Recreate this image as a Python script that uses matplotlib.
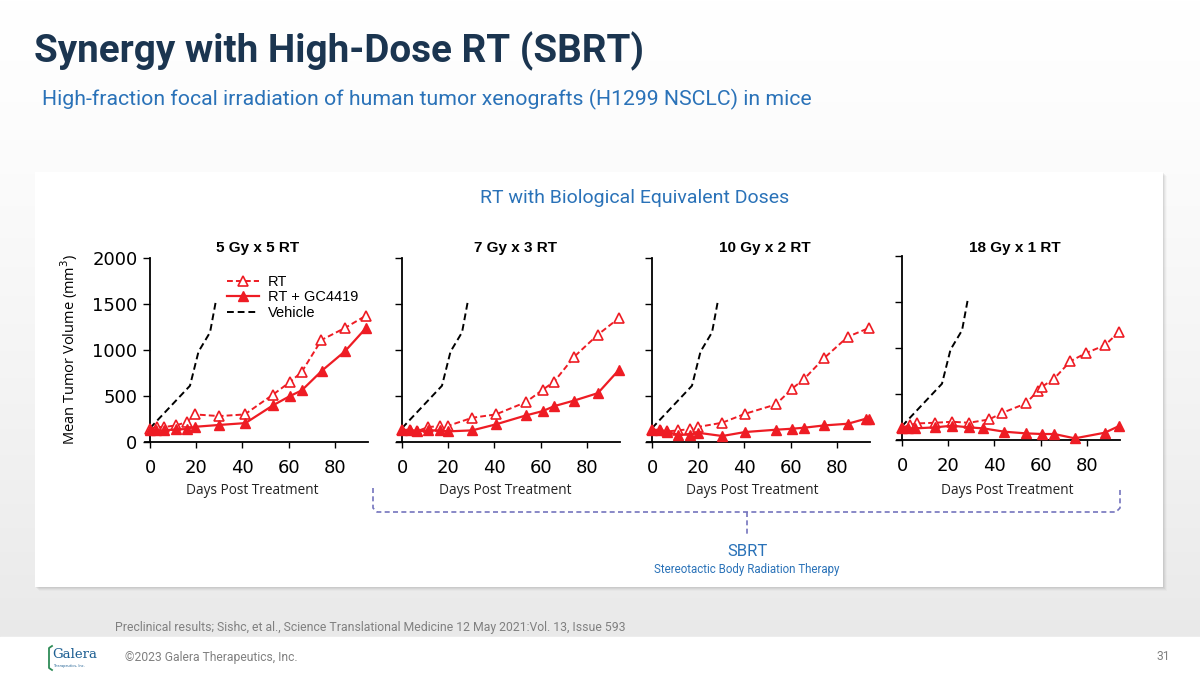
import matplotlib
matplotlib.use("Agg")
import matplotlib.pyplot as plt
from matplotlib.lines import Line2D
from matplotlib.patches import Rectangle
import numpy as np

W, H = 1200, 675

# ---- data ----
panel_titles = ["5 Gy x 5 RT", "7 Gy x 3 RT", "10 Gy x 2 RT", "18 Gy x 1 RT"]

vehicle_days = [0, 17.3, 21, 26, 28.6]
vehicle_vol = [150, 610, 980, 1190, 1540]

rt_days = [
    [0, 2.9, 6, 11.2, 15.9, 19.5, 30, 41, 53.3, 60.5, 65.6, 74.2, 84.3, 93.4],
    [0, 3.3, 6.7, 11.3, 16.4, 19.7, 30.4, 40.6, 53.6, 60.9, 65.9, 74.6, 84.8, 93.9],
    [0, 3.3, 6.7, 11.3, 16.4, 19.7, 30.4, 40.3, 53.6, 60.6, 65.9, 74.6, 84.8, 93.9],
    [0, 3.3, 6.7, 14.2, 21.7, 29, 37.7, 43.5, 53.6, 58.8, 60.6, 65.9, 72.9, 79.7, 87.8, 93.9],
]
rt_vol = [
    [144, 162, 162, 180, 216, 299, 281, 299, 515, 649, 757, 1106, 1236, 1369],
    [133, 133, 119, 162, 173, 173, 263, 299, 432, 566, 656, 926, 1164, 1344],
    [133, 133, 115, 126, 140, 162, 209, 306, 407, 577, 685, 912, 1142, 1236],
    [133, 162, 180, 187, 198, 187, 223, 295, 396, 533, 577, 667, 854, 944, 1027, 1171],
]

combo_days = [
    [0, 2.6, 6, 11.2, 15.9, 19.5, 30, 41.3, 53.4, 60.5, 65.7, 74.5, 84.4, 93.5],
    [0, 3.3, 6.7, 11.3, 16.4, 19.7, 30.4, 40.6, 53.6, 60.9, 65.9, 74.6, 84.8, 93.9],
    [0, 3.3, 6.7, 11.3, 16.4, 19.7, 30.4, 40.3, 53.6, 60.6, 65.9, 74.6, 84.8, 92.5, 93.9],
    [0, 2.6, 5.8, 14.2, 21.7, 29, 35.2, 44.3, 53.6, 60.6, 65.9, 74.8, 87.8, 93.9],
]
combo_vol = [
    [126, 126, 126, 137, 140, 165, 185, 205, 400, 497, 560, 775, 984, 1236],
    [126, 126, 115, 126, 126, 115, 126, 191, 288, 335, 389, 450, 530, 782],
    [133, 126, 108, 79, 79, 101, 65, 108, 133, 144, 155, 180, 198, 252, 252],
    [126, 126, 126, 137, 155, 137, 126, 90, 72, 65, 65, 18, 79, 151],
]

x_ticks = [0, 20, 40, 60, 80]
y_ticks = [0, 500, 1000, 1500, 2000]

RED = "#ee1c24"
NAVY = "#1b3550"
BLUE = "#2a72b8"
GREY = "#808080"
LAV = "#7474bd"


def fx(x):
    return x / W


def fy(y):
    return 1 - y / H


fig = plt.figure(figsize=(12, 6.75), dpi=100)

# slide background: soft vertical gradient, white footer strip
bg = fig.add_axes([0, 0, 1, 1], zorder=-10)
rows = np.linspace(0, 1, 300)
shade = 1.0 - 0.085 * rows ** 1.3
grad = np.repeat(shade[:, None, None], 3, axis=2)
bg.imshow(grad, extent=[0, W, 637, 0], aspect="auto")
bg.add_patch(Rectangle((0, 637), W, H - 637, color="white"))
# white card with a light shadow
for i, a in enumerate([0.05, 0.04, 0.03, 0.02]):
    bg.add_patch(Rectangle((35 + i + 1, 172 + i + 1), 1128, 415, color="black", alpha=a, lw=0))
bg.add_patch(Rectangle((35, 172), 1128, 415, color="white", lw=0))
bg.set_xlim(0, W)
bg.set_ylim(H, 0)
bg.axis("off")

# texts
fig.text(fx(34), fy(51), "Synergy with High-Dose RT (SBRT)", fontsize=27.8, fontweight="bold",
         color=NAVY, family="Roboto", va="center", ha="left")
fig.text(fx(42), fy(99), "High-fraction focal irradiation of human tumor xenografts (H1299 NSCLC) in mice",
         fontsize=15.3, color=BLUE, family="Roboto", va="center", ha="left")
fig.text(fx(635), fy(198), "RT with Biological Equivalent Doses", fontsize=14, color=BLUE,
         family="Roboto", va="center", ha="center")

# panels
spine_x = [150, 402, 652, 902]
base_y = [442, 442, 442, 440]
title_x = [258, 515, 765, 1015]
xlabel_x = [252, 505, 752, 1007]
ppd = 2.31          # pixels per day
x0, x1 = -2, 94.5
hpx = 184.4

axes = []
for k in range(4):
    left = spine_x[k] + x0 * ppd
    wpx = (x1 - x0) * ppd
    ax = fig.add_axes([fx(left), fy(base_y[k]), wpx / W, hpx / H])
    ax.set_xlim(x0, x1)
    ax.set_ylim(0, 2000)
    ax.patch.set_alpha(0)
    for s in ["top", "right"]:
        ax.spines[s].set_visible(False)
    ax.spines["left"].set_position(("data", 0))
    ax.spines["left"].set_linewidth(1.3)
    ax.spines["bottom"].set_linewidth(1.3)
    ax.set_xticks(x_ticks)
    ax.set_yticks(y_ticks)
    ax.tick_params(axis="x", length=4, width=1, pad=8, labelsize=13)
    ax.tick_params(axis="y", length=5, width=1, pad=4, labelsize=13, labelleft=(k == 0))

    ax.plot(vehicle_days, vehicle_vol, color="black", lw=1.4, dashes=(3.5, 2), label="Vehicle",
            clip_on=False, zorder=2)
    ax.plot(rt_days[k], rt_vol[k], color=RED, lw=1.4, dashes=(3, 1.6), marker="^", ms=7.5,
            mfc="white", mec=RED, mew=1.2, label="RT", clip_on=False, zorder=3)
    ax.plot(combo_days[k], combo_vol[k], color=RED, lw=1.6, marker="^", ms=7.5,
            mfc=RED, mec=RED, label="RT + GC4419", clip_on=False, zorder=4)

    fig.text(fx(title_x[k]), fy(248), panel_titles[k], fontsize=11, fontweight="bold",
             family="Liberation Sans", ha="center", va="center")
    fig.text(fx(xlabel_x[k]), fy(490), "Days Post Treatment", fontsize=9.8, color="#222222",
             family="Open Sans", ha="center", va="center")
    axes.append(ax)

fig.text(fx(69), fy(349), "Mean Tumor Volume (mm$^3$)", rotation=90, fontsize=10.5,
         va="center", ha="center", family="Open Sans")

h, l = axes[0].get_legend_handles_labels()
order = [1, 2, 0]
axes[0].legend([h[i] for i in order], [l[i] for i in order], loc="upper left",
               bbox_to_anchor=(fx(227), fy(275)), bbox_transform=fig.transFigure,
               frameon=False, prop={"family": "Liberation Sans", "size": 10.5},
               handlelength=2.2, handletextpad=0.6, labelspacing=0.1, borderpad=0,
               borderaxespad=0)

# SBRT bracket
br = dict(color=LAV, lw=1.2, ls=(0, (3, 2)), transform=fig.transFigure)
fig.add_artist(Line2D([fx(373), fx(373), fx(377), fx(1116), fx(1120), fx(1120)],
                      [fy(488), fy(508), fy(512), fy(512), fy(508), fy(488)], **br))
fig.add_artist(Line2D([fx(747), fx(747)], [fy(512), fy(537)], **br))
fig.text(fx(747), fy(551), "SBRT", fontsize=12, color=BLUE, family="Roboto", ha="center", va="center")
fig.text(fx(747), fy(569), "Stereotactic Body Radiation Therapy", fontsize=8.3, color=BLUE,
         family="Roboto", ha="center", va="center")

# footer
fig.text(fx(115), fy(627), "Preclinical results; Sishc, et al., Science Translational Medicine 12 May 2021:Vol. 13, Issue 593",
         fontsize=8.8, color=GREY, family="Roboto", ha="left", va="center")
fig.text(fx(125), fy(657), "\u00a92023 Galera Therapeutics, Inc.", fontsize=8.7, color=GREY,
         family="Roboto", ha="left", va="center")
fig.text(fx(1170), fy(657), "31", fontsize=8.7, color=GREY, family="Roboto", ha="right", va="center")
fig.text(fx(52), fy(655), "Galera", fontsize=9.5, color="#1d5f92", family="DejaVu Serif",
         ha="left", va="center")
fig.text(fx(53), fy(666), "Therapeutics, Inc.", fontsize=2.5, color="#1d5f92", ha="left", va="center")
fig.add_artist(Line2D([fx(52), fx(49), fx(49), fx(52)], [fy(646), fy(648), fy(668), fy(670)],
                      color="#2e8b57", lw=1.3, transform=fig.transFigure))

fig.savefig("out.png", dpi=100)
